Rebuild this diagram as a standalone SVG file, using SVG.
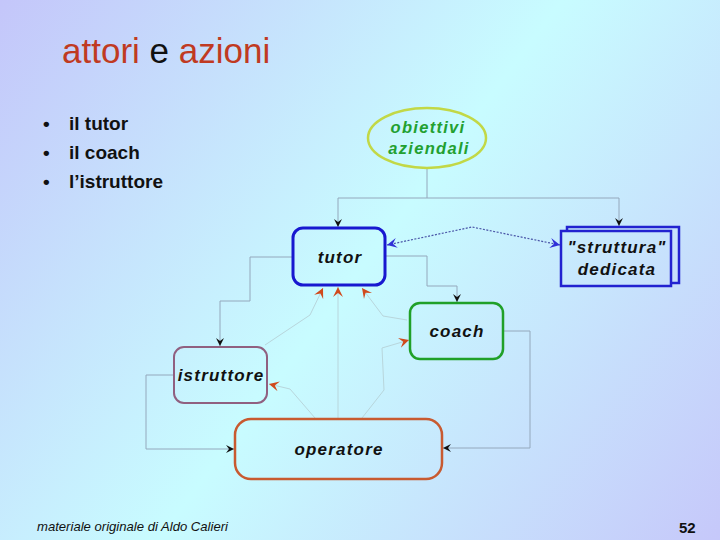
<svg xmlns="http://www.w3.org/2000/svg" width="720" height="540" viewBox="0 0 720 540">
<defs>
<linearGradient id="bg" gradientUnits="userSpaceOnUse" x1="0" y1="0" x2="720" y2="540">
<stop offset="0" stop-color="#c4c6fa"/>
<stop offset="0.5" stop-color="#c8fcff"/>
<stop offset="1" stop-color="#c6c8fa"/>
</linearGradient>
<marker id="ab" viewBox="-9 -5 10 10" refX="0" refY="0" markerWidth="10" markerHeight="10" markerUnits="userSpaceOnUse" orient="auto">
<path d="M0,0 L-8,-4 L-5,0 L-8,4 Z" fill="#101010"/>
</marker>
<marker id="ao" viewBox="-10 -6 11 12" refX="0" refY="0" markerWidth="11" markerHeight="12" markerUnits="userSpaceOnUse" orient="auto">
<path d="M0,0 L-10,-5 L-6,0 L-10,5 Z" fill="#d04a1c"/>
</marker>
<marker id="au" viewBox="-10 -6 11 12" refX="0" refY="0" markerWidth="11" markerHeight="12" markerUnits="userSpaceOnUse" orient="auto-start-reverse">
<path d="M0,0 L-10,-5 L-6,0 L-10,5 Z" fill="#3030d8"/>
</marker>
</defs>
<style>
.main{fill:none;stroke:#94a8bc;stroke-width:1}
.faint{fill:none;stroke:#b8d6dc;stroke-width:1}
.lbl{font-family:"Liberation Sans",Arial,sans-serif;font-weight:bold;font-style:italic;font-size:17px;letter-spacing:1.2px;fill:#111;text-anchor:middle}
.bul{font-family:"Liberation Sans",Arial,sans-serif;font-weight:bold;font-size:19px;fill:#111}
</style>
<rect x="0" y="0" width="720" height="540" fill="url(#bg)"/>

<text x="62" y="63" font-family="'Liberation Sans',Arial,sans-serif" font-size="35" fill="#c03a22">attori <tspan fill="#111">e</tspan> azioni</text>

<g id="bullets">
<text class="bul" x="43" y="130">•</text><text class="bul" x="69" y="130">il tutor</text>
<text class="bul" x="43" y="159">•</text><text class="bul" x="69" y="159">il coach</text>
<text class="bul" x="43" y="188">•</text><text class="bul" x="69" y="188">l’istruttore</text>
</g>

<g id="connectors">
<path class="main" d="M427,168 V198 H338 V227" marker-end="url(#ab)"/>
<path class="main" d="M427,198 H619 V226" marker-end="url(#ab)"/>
<path class="main" d="M293,257 H250 V301 H220 V346" marker-end="url(#ab)"/>
<path class="main" d="M385,256 H427 V286 H457 V302" marker-end="url(#ab)"/>
<path class="main" d="M503,331 H530 V448 H443" marker-end="url(#ab)"/>
<path class="main" d="M174,375 H146 V449 H234" marker-end="url(#ab)"/>
<path class="faint" d="M338,418 V287" marker-end="url(#ao)"/>
<path class="faint" d="M265,345 L310,315 L323,288" marker-end="url(#ao)"/>
<path class="faint" d="M407,320 L383,316 L362,288" marker-end="url(#ao)"/>
<path class="faint" d="M315,418 L290,389 L269,384" marker-end="url(#ao)"/>
<path class="faint" d="M362,418 L384,390 L382,348 L409,340" marker-end="url(#ao)"/>
<path d="M387,245 L472,227 L560,245" fill="none" stroke="#4a56a8" stroke-width="1.2" stroke-dasharray="2,1.5" marker-start="url(#au)" marker-end="url(#au)"/>
</g>

<g id="obiettivi">
<ellipse cx="427" cy="138" rx="59" ry="30" fill="none" stroke="#c2d846" stroke-width="2.5"/>
<text class="lbl" x="428" y="133" font-size="16.5" fill="#22a030" style="fill:#22a030;font-size:16.5px;letter-spacing:1.3px">obiettivi</text>
<text class="lbl" x="429" y="154" style="fill:#22a030;font-size:16.5px;letter-spacing:1.3px">aziendali</text>
</g>

<g id="tutor">
<rect x="293" y="228" width="92" height="57" rx="10" fill="none" stroke="#1818d0" stroke-width="3"/>
<text class="lbl" x="340" y="263">tutor</text>
</g>

<g id="struttura">
<rect x="567" y="227" width="112" height="56" fill="none" stroke="#2222d0" stroke-width="2.5"/>
<rect x="561" y="231" width="110" height="55" fill="url(#bg)" stroke="#2222d0" stroke-width="2.5"/>
<text class="lbl" x="617" y="253">"struttura"</text>
<text class="lbl" x="617" y="275">dedicata</text>
</g>

<g id="coach">
<rect x="410" y="303" width="93" height="56" rx="10" fill="none" stroke="#20a028" stroke-width="2.5"/>
<text class="lbl" x="457" y="337">coach</text>
</g>

<g id="istruttore">
<rect x="174" y="347" width="93" height="56" rx="10" fill="none" stroke="#906080" stroke-width="2"/>
<text class="lbl" x="221" y="381">istruttore</text>
</g>

<g id="operatore">
<rect x="235" y="419" width="207" height="60" rx="16" fill="none" stroke="#c85a30" stroke-width="2.5"/>
<text class="lbl" x="339" y="455">operatore</text>
</g>

<text x="37" y="531" font-family="'Liberation Sans',Arial,sans-serif" font-style="italic" font-size="13" fill="#111" textLength="191" lengthAdjust="spacingAndGlyphs">materiale originale di Aldo Calieri</text>
<text x="679" y="533" font-family="'Liberation Sans',Arial,sans-serif" font-weight="bold" font-size="15" fill="#111">52</text>
</svg>
